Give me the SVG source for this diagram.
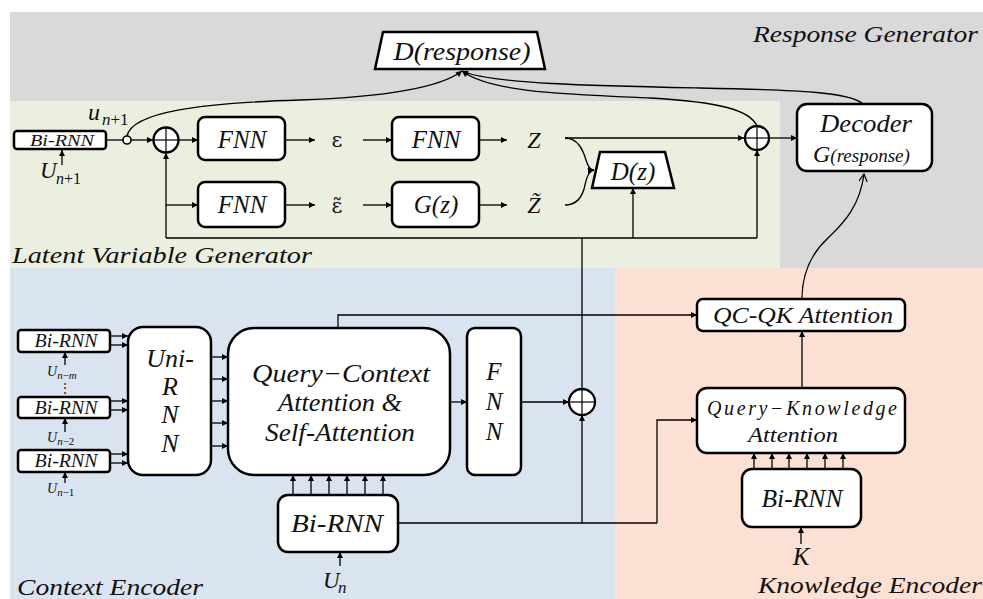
<svg xmlns="http://www.w3.org/2000/svg" width="983" height="599" viewBox="0 0 983 599">
<style>
.bx{fill:#fff;stroke:#000;stroke-width:2.5}
.ln{fill:none;stroke:#000;stroke-width:1.3}
.a{marker-end:url(#ah)}
.ao{marker-end:url(#ao)}
.t{font-family:"Liberation Serif","DejaVu Serif",serif;font-style:italic;fill:#111}
.u{font-family:"Liberation Serif","DejaVu Serif",serif;fill:#111}
.g{font-family:"DejaVu Serif",serif;fill:#111}
.sec{font-family:"Liberation Serif","DejaVu Serif",serif;font-style:italic;font-size:23px;fill:#111}
.pl{fill:#fff;stroke:#000;stroke-width:2.3}
.px{stroke:#000;stroke-width:1.2}
</style>
<defs>
<marker id="ah" viewBox="0 0 10 10" refX="10" refY="5" markerUnits="userSpaceOnUse" markerWidth="7" markerHeight="6" orient="auto"><path d="M0,0L10,5L0,10z" fill="#000"/></marker>
<marker id="ao" viewBox="0 0 10 10" refX="9" refY="5" markerUnits="userSpaceOnUse" markerWidth="9" markerHeight="9" orient="auto"><path d="M0,0L9,5L0,10" fill="none" stroke="#000" stroke-width="1.3"/></marker>
</defs>
<rect width="983" height="599" fill="#fff"/>
<g id="regions">
<rect x="10" y="12" width="973" height="256" fill="#d9d9d9"/>
<rect x="10" y="101" width="770" height="167" fill="#ebefdf"/>
<rect x="10" y="268" width="605" height="331" fill="#dae3f0"/>
<rect x="615" y="268" width="368" height="331" fill="#fde0d4"/>
<text class="sec" x="753" y="42" textLength="225" lengthAdjust="spacingAndGlyphs">Response Generator</text>
<text class="sec" x="12" y="263" textLength="300" lengthAdjust="spacingAndGlyphs">Latent Variable Generator</text>
<text class="sec" x="17" y="595" textLength="186" lengthAdjust="spacingAndGlyphs">Context Encoder</text>
<text class="sec" x="758" y="593" textLength="224" lengthAdjust="spacingAndGlyphs">Knowledge Encoder</text>
</g>
<g id="connectors">
<line class="ln" x1="106" y1="140" x2="123" y2="140"/>
<line class="ln a" x1="131" y1="140" x2="153" y2="140"/>
<path class="ln a" d="M127,136 C132,112 200,103 300,100 C385,97 440,88 462,71"/>
<line class="ln a" x1="179" y1="140" x2="198" y2="140"/>
<line class="ln a" x1="285" y1="140" x2="315" y2="140"/>
<line class="ln a" x1="363" y1="140" x2="392" y2="140"/>
<line class="ln a" x1="479" y1="140" x2="507" y2="140"/>
<line class="ln a" x1="565" y1="138" x2="744" y2="138"/>
<path class="ln a" d="M565,138 C578,138 583,150 586,160 C588,167 590,170 594,170"/>
<path class="ln a" d="M565,205 C578,205 583,195 585,185 C587,176 589,171 594,170"/>
<line class="ln a" x1="769" y1="138" x2="797" y2="138"/>
<path class="ln a" d="M863,104 C850,92 800,90 700,88 C600,86 490,84 462,71"/>
<path class="ln a" d="M757,126 C750,110 720,102 650,98 C560,94 490,92 462,71"/>
<line class="ln a" x1="285" y1="205" x2="315" y2="205"/>
<line class="ln a" x1="363" y1="205" x2="392" y2="205"/>
<line class="ln a" x1="479" y1="205" x2="507" y2="205"/>
<line class="ln" x1="582" y1="389" x2="582" y2="238"/>
<line class="ln" x1="166" y1="238" x2="757" y2="238"/>
<line class="ln a" x1="166" y1="238" x2="166" y2="153"/>
<line class="ln a" x1="166" y1="205" x2="198" y2="205"/>
<line class="ln a" x1="633" y1="238" x2="633" y2="188"/>
<line class="ln a" x1="757" y1="238" x2="757" y2="150"/>
<line class="ln a" x1="62" y1="165" x2="62" y2="150"/>
<line class="ln a" x1="65" y1="365" x2="65" y2="352"/>
<line class="ln a" x1="65" y1="432" x2="65" y2="418"/>
<line class="ln a" x1="65" y1="483" x2="65" y2="472"/>
<line class="ln a" x1="110" y1="336" x2="128" y2="336"/>
<line class="ln a" x1="110" y1="345" x2="128" y2="345"/>
<line class="ln a" x1="110" y1="401" x2="128" y2="401"/>
<line class="ln a" x1="110" y1="410" x2="128" y2="410"/>
<line class="ln a" x1="110" y1="454" x2="128" y2="454"/>
<line class="ln a" x1="110" y1="463" x2="128" y2="463"/>
<line class="ln a" x1="211" y1="357" x2="228" y2="357"/>
<line class="ln a" x1="211" y1="379" x2="228" y2="379"/>
<line class="ln a" x1="211" y1="401" x2="228" y2="401"/>
<line class="ln a" x1="211" y1="423" x2="228" y2="423"/>
<line class="ln a" x1="211" y1="446" x2="228" y2="446"/>
<line class="ln a" x1="450" y1="402" x2="467" y2="402"/>
<line class="ln a" x1="521" y1="402" x2="569" y2="402"/>
<line class="ln" x1="398" y1="523" x2="657" y2="523"/>
<path class="ln a" d="M657,523 V420 H697"/>
<line class="ln a" x1="582" y1="523" x2="582" y2="415"/>
<line class="ln a" x1="293" y1="495" x2="293" y2="475"/>
<line class="ln a" x1="311" y1="495" x2="311" y2="475"/>
<line class="ln a" x1="329" y1="495" x2="329" y2="475"/>
<line class="ln a" x1="347" y1="495" x2="347" y2="475"/>
<line class="ln a" x1="365" y1="495" x2="365" y2="475"/>
<line class="ln a" x1="383" y1="495" x2="383" y2="475"/>
<line class="ln a" x1="340" y1="566" x2="340" y2="552"/>
<path class="ln a" d="M338,328 V315 H697"/>
<line class="ln a" x1="754" y1="469" x2="754" y2="453"/>
<line class="ln a" x1="772" y1="469" x2="772" y2="453"/>
<line class="ln a" x1="789" y1="469" x2="789" y2="453"/>
<line class="ln a" x1="807" y1="469" x2="807" y2="453"/>
<line class="ln a" x1="825" y1="469" x2="825" y2="453"/>
<line class="ln a" x1="843" y1="469" x2="843" y2="453"/>
<line class="ln a" x1="801" y1="544" x2="801" y2="527"/>
<line class="ln a" x1="802" y1="388" x2="802" y2="331"/>
<path class="ln ao" d="M802,299 C802,270 815,250 828,238 C845,222 860,205 864,174"/>
</g>
<g id="n-birnn-top"><rect class="bx" x="14" y="131" width="92" height="18" rx="3"/><text class="t" x="62" y="146" font-size="16" text-anchor="middle" textLength="64" lengthAdjust="spacingAndGlyphs">Bi-RNN</text></g>
<g id="n-u-top"><text class="t" x="40" y="178" font-size="23">U</text><text class="t" x="56" y="184" font-size="16">n<tspan font-style="normal">+1</tspan></text></g>
<g id="n-un1"><text class="t" x="88" y="120" font-size="24">u</text><text class="t" x="102" y="125" font-size="17">n<tspan font-style="normal">+1</tspan></text></g>
<g id="n-junction"><circle cx="127" cy="140" r="4" fill="#fff" stroke="#000" stroke-width="1.6"/></g>
<g id="n-plus1"><circle class="pl" cx="166" cy="140" r="12.5"/><line class="px" x1="153.5" y1="140" x2="178.5" y2="140" stroke="#4a6a9a"/><line class="px" x1="166" y1="127.5" x2="166" y2="152.5" stroke="#4a6a9a"/></g>
<g id="n-fnn1"><rect class="bx" x="198" y="117" width="87" height="43" rx="7"/><text class="t" x="242" y="148" font-size="25" text-anchor="middle">FNN</text></g>
<g id="n-eps"><text class="g" x="337" y="147" font-size="21" text-anchor="middle">ε</text></g>
<g id="n-fnn2"><rect class="bx" x="392" y="117" width="87" height="43" rx="7"/><text class="t" x="436" y="148" font-size="25" text-anchor="middle">FNN</text></g>
<g id="n-z"><text class="t" x="534" y="148" font-size="24" text-anchor="middle">Z</text></g>
<g id="n-fnn3"><rect class="bx" x="198" y="182" width="87" height="45" rx="7"/><text class="t" x="242" y="213" font-size="25" text-anchor="middle">FNN</text></g>
<g id="n-epst"><text class="g" x="337" y="213" font-size="21" text-anchor="middle">ε&#771;</text></g>
<g id="n-gz"><rect class="bx" x="392" y="182" width="87" height="45" rx="7"/><text class="t" x="436" y="213" font-size="25" text-anchor="middle">G(z)</text></g>
<g id="n-zt"><text class="t" x="534" y="213" font-size="24" text-anchor="middle">Z&#771;</text></g>
<g id="n-dz"><polygon class="bx" points="600,152 665,152 674,188 592,188"/><text class="t" x="633" y="180" font-size="25" text-anchor="middle">D(z)</text></g>
<g id="n-plus2"><circle class="pl" cx="757" cy="138" r="12"/><line class="px" x1="745" y1="138" x2="769" y2="138"/><line class="px" x1="757" y1="126" x2="757" y2="150"/></g>
<g id="n-decoder"><rect class="bx" x="797" y="104" width="135" height="67" rx="10"/><text class="t" x="866" y="132" font-size="25" text-anchor="middle" textLength="92" lengthAdjust="spacingAndGlyphs">Decoder</text><text class="t" x="813" y="162" font-size="24">G<tspan font-size="19">(response)</tspan></text></g>
<g id="n-dresp"><polygon class="bx" points="383,32 537,32 545,69 375,69"/><text class="t" x="462" y="60" font-size="25" text-anchor="middle" textLength="137" lengthAdjust="spacingAndGlyphs">D(response)</text></g>
<g id="n-birnn-c1"><rect class="bx" x="18" y="330" width="92" height="22" rx="3"/><text class="t" x="66" y="347" font-size="18" text-anchor="middle" textLength="63" lengthAdjust="spacingAndGlyphs">Bi-RNN</text></g>
<g id="n-birnn-c2"><rect class="bx" x="18" y="397" width="92" height="21" rx="3"/><text class="t" x="66" y="414" font-size="18" text-anchor="middle" textLength="63" lengthAdjust="spacingAndGlyphs">Bi-RNN</text></g>
<g id="n-birnn-c3"><rect class="bx" x="18" y="450" width="92" height="22" rx="3"/><text class="t" x="66" y="467" font-size="18" text-anchor="middle" textLength="63" lengthAdjust="spacingAndGlyphs">Bi-RNN</text></g>
<g id="n-u-labels">
<text class="t" x="47" y="376" font-size="14">U<tspan font-size="11" dy="3">n<tspan font-style="normal">−</tspan>m</tspan></text>
<text class="u" x="65" y="392" font-size="12" text-anchor="middle">⋮</text>
<text class="t" x="47" y="442" font-size="14">U<tspan font-size="11" dy="3">n<tspan font-style="normal">−2</tspan></tspan></text>
<text class="t" x="47" y="493" font-size="14">U<tspan font-size="11" dy="3">n<tspan font-style="normal">−1</tspan></tspan></text>
</g>
<g id="n-uni"><rect class="bx" x="128" y="327" width="83" height="148" rx="15"/>
<text class="t" font-size="26" text-anchor="middle"><tspan x="170" y="367">Uni-</tspan><tspan x="170" y="395">R</tspan><tspan x="170" y="423">N</tspan><tspan x="170" y="452">N</tspan></text></g>
<g id="n-qc"><rect class="bx" x="228" y="328" width="222" height="147" rx="26"/>
<text class="t" font-size="25" text-anchor="middle"><tspan x="341" y="382" textLength="178" lengthAdjust="spacingAndGlyphs">Query−Context</tspan><tspan x="340" y="411" textLength="124" lengthAdjust="spacingAndGlyphs">Attention &amp;</tspan><tspan x="340" y="441" textLength="150" lengthAdjust="spacingAndGlyphs">Self-Attention</tspan></text></g>
<g id="n-fnn-c"><rect class="bx" x="467" y="328" width="54" height="147" rx="8"/>
<text class="t" font-size="25" text-anchor="middle"><tspan x="494" y="380">F</tspan><tspan x="494" y="410">N</tspan><tspan x="494" y="440">N</tspan></text></g>
<g id="n-plus3"><circle class="pl" cx="582" cy="402" r="13"/><line class="px" x1="569" y1="402" x2="595" y2="402"/><line class="px" x1="582" y1="389" x2="582" y2="415"/></g>
<g id="n-birnn-q"><rect class="bx" x="278" y="495" width="120" height="57" rx="10"/><text class="t" x="337" y="532" font-size="25" text-anchor="middle" textLength="92" lengthAdjust="spacingAndGlyphs">Bi-RNN</text></g>
<g id="n-un"><text class="t" x="323" y="588" font-size="23">U</text><text class="t" x="338" y="593" font-size="17">n</text></g>
<g id="n-qcqk"><rect class="bx" x="697" y="299" width="208" height="32" rx="6"/><text class="t" x="803" y="323" font-size="24" text-anchor="middle" textLength="180" lengthAdjust="spacingAndGlyphs">QC-QK Attention</text></g>
<g id="n-qk"><rect class="bx" x="697" y="388" width="208" height="65" rx="10"/><text class="t" font-size="20" text-anchor="middle"><tspan x="802" y="415" textLength="190" lengthAdjust="spacing">Query−Knowledge</tspan><tspan x="793" y="442" textLength="90" lengthAdjust="spacingAndGlyphs">Attention</tspan></text></g>
<g id="n-birnn-k"><rect class="bx" x="742" y="469" width="119" height="58" rx="10"/><text class="t" x="802" y="507" font-size="25" text-anchor="middle" textLength="81" lengthAdjust="spacingAndGlyphs">Bi-RNN</text></g>
<g id="n-k"><text class="t" x="801" y="565" font-size="25" text-anchor="middle">K</text></g>
</svg>
